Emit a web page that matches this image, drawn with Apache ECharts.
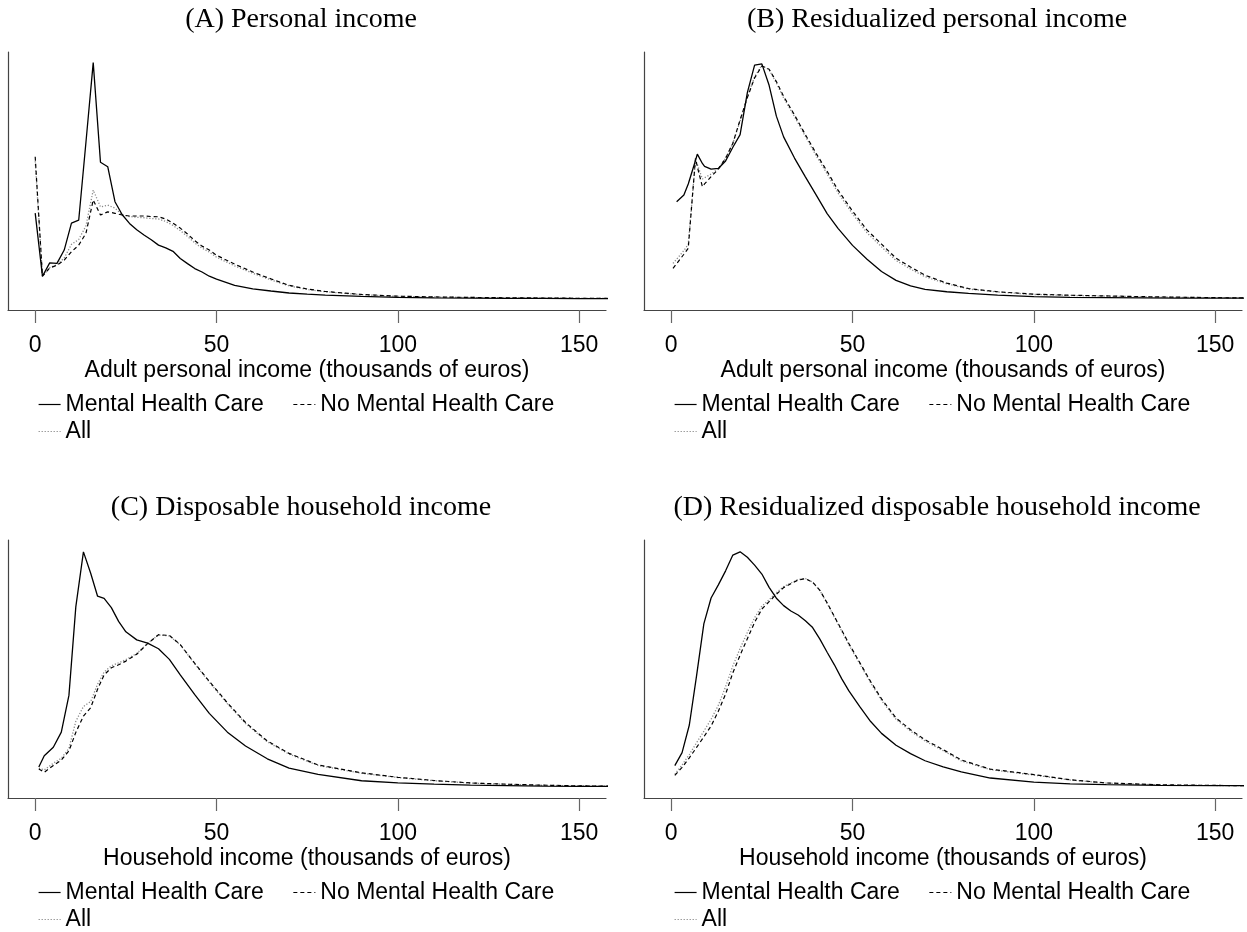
<!DOCTYPE html>
<html>
<head>
<meta charset="utf-8">
<script src="https://cdn.jsdelivr.net/npm/echarts@6/dist/echarts.min.js"></script>
<style>
html,body{margin:0;padding:0;background:#fff;}
#chart{width:1247px;height:932px;}
</style>
</head>
<body>
<div id="chart"></div>
<script>
// ---- Data (relative kernel density) ----
const xTicks = [0, 50, 100, 150];
const seriesNames = ['Mental Health Care', 'No Mental Health Care', 'All'];
const panelTitles = ['(A) Personal income', '(B) Residualized personal income',
  '(C) Disposable household income', '(D) Residualized disposable household income'];
const axisTitles = ['Adult personal income (thousands of euros)', 'Adult personal income (thousands of euros)',
  'Household income (thousands of euros)', 'Household income (thousands of euros)'];

// Panel A
const xA = [0,2,4,6,8,10,12,14,16,18,20,22,24,26,28,30,32,34,36,38,40,42,44,46,48,50,55,60,65,70,75,80,90,100,110,120,130,140,150,158];
const mhcA = [34.7,9.1,14.5,14.3,19.7,30.6,31.8,63.5,95.7,55.3,53.5,39.3,34.0,30.5,27.9,25.8,23.9,21.7,20.6,19.2,16.3,14.2,12.2,10.8,9.1,7.9,5.4,4.0,3.1,2.3,1.8,1.4,0.9,0.5,0.35,0.25,0.15,0.1,0.05,0.03];
const noA = [57.5,9.1,12.4,13.6,15.6,19.0,21.7,26.5,40.0,33.9,35.2,34.6,33.9,33.5,33.5,33.5,33.3,33.2,32.3,30.6,28.6,26.2,23.5,21.3,19.7,17.6,14.0,10.8,8.0,5.4,3.9,2.9,1.7,1.0,0.7,0.5,0.35,0.25,0.15,0.1];
const allA = [55.7,9.1,12.6,13.7,16.5,22.0,24.0,29.5,44.0,37.2,37.9,36.7,34.0,33.3,33.0,32.8,32.5,32.3,31.3,29.7,27.6,25.2,22.6,20.5,18.9,16.8,13.3,10.3,7.6,5.2,3.7,2.8,1.6,0.95,0.67,0.48,0.33,0.24,0.14,0.09];

// Panel B
const xB = [0.5,1.5,3.5,4.7,6.7,7.2,8.6,9.2,11,13,15,17,19,21,23,25,27,29,31,34,37,40,43,46,50,54,58,62,66,70,76,82,90,100,110,120,130,140,150,158];
const mhcB = [null,39.3,42.0,46.5,56.0,58.6,54.8,53.6,52.5,52.8,55.8,61.4,66.5,83.5,94.7,95.2,86.5,74.0,65.6,57.0,49.4,42.0,34.5,28.5,21.6,16.0,11.0,7.4,5.2,3.8,2.8,2.1,1.4,0.8,0.55,0.4,0.3,0.25,0.2,0.2];
const noB = [12.3,14.2,18.0,20.4,56.9,53.5,45.4,46.5,49.5,52.5,56.9,63.0,72.5,81.5,89.5,94.3,93.0,88.0,82.0,74.5,66.5,58.8,51.6,44.0,35.5,27.8,22.1,16.4,12.8,9.5,6.3,4.1,2.8,1.8,1.4,1.1,0.8,0.6,0.4,0.3];
const allB = [14.3,16.0,19.5,22.0,56.2,54.5,48.5,49.0,50.5,52.8,57.0,63.0,72.0,81.8,90.0,94.6,92.8,87.4,81.4,73.8,65.8,57.9,50.6,42.9,34.4,26.7,21.0,15.5,12.0,8.9,6.0,3.9,2.7,1.7,1.3,1.0,0.75,0.55,0.4,0.3];

// Panel C
const xC = [1,2.5,5,7.2,9.3,11.2,13.3,15.3,17.2,19,21,23,25,28,31,34,37,40,44,48,53,58,64,70,78,90,100,110,120,130,140,150,158];
const mhcC = [8.0,12.5,16.0,22.1,37.0,72.9,95.2,86.5,77.2,76.3,72.6,67.0,62.8,59.5,58.2,55.9,51.6,45.3,37.3,29.7,22.1,16.5,11.3,7.5,5.0,2.4,1.5,1.0,0.6,0.4,0.25,0.15,0.1];
const noC = [7.2,5.8,8.6,10.8,14.5,22.0,28.6,32.0,39.5,45.3,48.2,49.4,50.9,53.7,58.0,61.6,61.3,57.6,50.0,42.7,34.0,26.0,18.5,13.5,8.8,5.6,3.8,2.5,1.5,1.0,0.6,0.3,0.2];
const allC = [7.5,6.8,9.5,11.5,15.5,26.5,32.5,34.5,41.5,46.5,49.0,50.2,51.5,54.0,58.1,61.5,61.1,57.5,49.8,42.4,33.6,25.6,18.2,13.2,8.6,5.4,3.7,2.4,1.45,0.95,0.55,0.3,0.2];

// Panel D
const xD = [1,3,5,7,9,11,13,15,17,19,21,23,25,27,29,31,33,35,37,39,41,43,45,47,49,52,55,58,62,66,70,75,80,88,100,110,120,135,150,158];
const mhcD = [8.5,13.8,25.0,45.0,66.0,76.5,81.8,87.5,93.9,95.2,93.0,89.8,86.2,80.8,76.4,73.4,71.2,69.6,67.3,64.5,59.8,54.5,49.4,43.8,38.8,32.4,26.4,21.6,16.8,13.4,10.5,8.0,6.0,3.5,1.8,1.1,0.8,0.55,0.45,0.4];
const noD = [4.6,7.8,11.7,15.9,20.2,24.6,30.6,37.5,46.2,53.3,60.0,66.6,72.0,75.0,78.0,80.7,82.3,83.8,84.3,82.9,79.6,74.5,69.0,63.5,58.0,50.3,42.6,35.6,27.8,23.1,19.0,15.0,10.8,7.1,4.9,2.8,1.5,0.75,0.5,0.4];
const allD = [5.0,8.8,13.0,17.8,22.5,27.3,33.0,40.5,49.0,56.0,62.5,68.5,73.2,75.8,78.6,81.1,82.6,84.0,84.4,82.9,79.5,74.3,68.7,63.1,57.5,49.8,42.1,35.0,27.3,22.5,18.5,14.6,10.4,6.9,4.7,2.7,1.45,0.72,0.48,0.4];

// ---- Build chart ----
const panels = [
  {x: xA, ys: [mhcA, noA, allA]},
  {x: xB, ys: [mhcB, noB, allB]},
  {x: xC, ys: [mhcC, noC, allC]},
  {x: xD, ys: [mhcD, noD, allD]}
];
const colLeft = [8, 644];
const rowTop = [52, 540];
const gridW = 598, gridH = 258;
const sansFont = "'Liberation Sans', Arial, Helvetica, sans-serif";
const serifFont = "'Liberation Serif', 'Times New Roman', serif";
const seriesColors = ['#000', '#000', '#888'];
const lineStyles = [
  {color: '#000', width: 1.3, type: 'solid'},
  {color: '#000', width: 1.2, type: [4, 3]},
  {color: '#888', width: 1.3, type: [1.2, 1.8]}
];

const grid = [], xAxis = [], yAxis = [], series = [], legend = [], graphic = [];
panels.forEach((p, i) => {
  const col = i % 2, row = Math.floor(i / 2);
  const left = colLeft[col], top = rowTop[row];
  grid.push({left: left, top: top, width: gridW, height: gridH, containLabel: false});
  xAxis.push({
    type: 'value', gridIndex: i, min: -7.5, max: 157.4,
    axisLine: {show: true, onZero: false, lineStyle: {color: '#444', width: 1.2}},
    axisTick: {show: true, length: 13, customValues: xTicks, lineStyle: {color: '#666', width: 1.2}},
    axisLabel: {customValues: xTicks, fontSize: 23, color: '#000', margin: 24, fontFamily: sansFont},
    splitLine: {show: false},
    name: axisTitles[i], nameLocation: 'middle', nameGap: 49,
    nameTextStyle: {fontSize: 23, color: '#000', fontFamily: sansFont}
  });
  yAxis.push({
    type: 'value', gridIndex: i, min: -4.6, max: 100,
    axisLine: {show: true, onZero: false, lineStyle: {color: '#444', width: 1.2}},
    axisTick: {show: false}, axisLabel: {show: false}, splitLine: {show: false}
  });
  [2, 1, 0].forEach(k => {
    series.push({
      type: 'line', name: seriesNames[k], xAxisIndex: i, yAxisIndex: i,
      data: p.x.map((xv, j) => [xv, p.ys[k][j]]),
      symbol: 'none', showSymbol: false, smooth: false, connectNulls: false,
      color: seriesColors[k], itemStyle: {color: seriesColors[k]},
      lineStyle: lineStyles[k], z: 3 - k, animation: false
    });
  });
  const legTop = row === 0 ? 393 : 881;
  const legCommon = {
    orient: 'horizontal', left: left + 30, padding: 0, itemWidth: 22, itemHeight: 14,
    itemStyle: {opacity: 0, borderWidth: 0},
    lineStyle: {width: 1.2},
    textStyle: {fontSize: 23, color: '#000', fontFamily: sansFont}, selectedMode: false
  };
  legend.push(Object.assign({}, legCommon, {
    data: [seriesNames[0], seriesNames[1]], top: legTop, itemGap: 29
  }));
  legend.push(Object.assign({}, legCommon, {
    data: [seriesNames[2]], top: legTop + 27
  }));
  graphic.push({
    type: 'text', x: left + gridW / 2 - 6, y: row === 0 ? 20 : 508,
    style: {text: panelTitles[i], fill: '#000', font: '28px ' + serifFont,
      textAlign: 'center', textVerticalAlign: 'middle'}
  });
});

const chart = echarts.init(document.getElementById('chart'), null, {renderer: 'canvas'});
chart.setOption({
  backgroundColor: '#fff',
  animation: false,
  grid: grid, xAxis: xAxis, yAxis: yAxis, series: series, legend: legend, graphic: graphic
});
</script>
</body>
</html>
